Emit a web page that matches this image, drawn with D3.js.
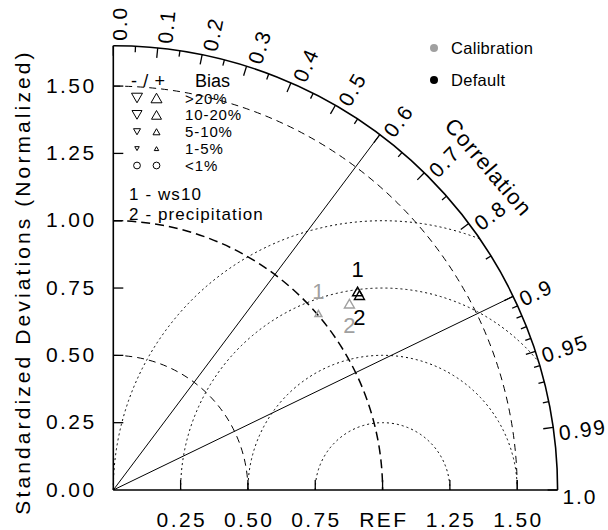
<!DOCTYPE html>
<html>
<head>
<meta charset="utf-8">
<script src="https://cdn.jsdelivr.net/npm/d3@7/dist/d3.min.js"></script>
<style>
  html, body { margin: 0; padding: 0; background: #fff; }
  svg text { font-family: "Liberation Sans", Arial, Helvetica, sans-serif; fill: #000; }
</style>
</head>
<body>
<svg id="chart" width="608" height="530"></svg>
<script>
// ---- data ----
const variables = ["ws10", "precipitation"];
const defaultStd = [1.169, 1.166];
const defaultCor = [0.776, 0.784];
const defaultBias = [15, 12];          // percent
const calibStd = [1.005, 1.117];
const calibCor = [0.758, 0.785];
const calibBias = [7, 11];             // percent

const caseNames = ["Calibration", "Default"];
const caseColors = ["#a0a0a0", "#000000"];

const stdMax = 1.65;
const stdTicks = [0.25, 0.5, 0.75, 1.0, 1.25, 1.5];
const yTickLabels = ["0.25", "0.50", "0.75", "1.00", "1.25", "1.50"];
const xTickLabels = ["0.25", "0.50", "0.75", "REF", "1.25", "1.50"];
const stdArcs = [0.5, 1.0, 1.5];
const rmsArcs = [0.25, 0.5, 0.75, 1.0];
const corMajor = [0, 0.1, 0.2, 0.3, 0.4, 0.5, 0.6, 0.7, 0.8, 0.9, 0.95, 0.99, 1.0];
const corMajorLabels = ["0.0", "0.1", "0.2", "0.3", "0.4", "0.5", "0.6", "0.7", "0.8", "0.9", "0.95", "0.99", "1.0"];
const corMinor = [0.05, 0.15, 0.25, 0.35, 0.45, 0.55, 0.65, 0.75, 0.85, 0.91, 0.92, 0.93, 0.94, 0.96, 0.97, 0.98];
const corRays = [0.6, 0.9];

const biasLabels = [">20%", "10-20%", "5-10%", "1-5%", "<1%"];
const biasLower = [20, 10, 5, 1, 0];

// ---- layout ----
const svg = d3.select("#chart");
const ox = 113.3, oy = 490;
const r = d3.scaleLinear().domain([0, stdMax]).range([0, 444.3]);
const R = r(stdMax);
const font = "'Liberation Sans', Arial, Helvetica, sans-serif";

function pt(s, c) {
  const th = Math.acos(c);
  return [ox + r(s) * Math.cos(th), oy - r(s) * Math.sin(th)];
}
function biasClass(b) {
  const a = Math.abs(b);
  for (let i = 0; i < biasLower.length; i++) if (a >= biasLower[i]) return i;
  return biasLower.length - 1;
}
const markerWidth = [11, 10, 7, 4.5];
function markerPath(cls, up) {
  if (cls >= 4) {
    const p = d3.path(); p.arc(0, 0, 3.4, 0, 2 * Math.PI); return p.toString();
  }
  const w = markerWidth[cls], h = w * 0.87;
  const s = up ? 1 : -1;
  return `M0,${-s * h / 2}L${w / 2},${s * h / 2}L${-w / 2},${s * h / 2}Z`;
}

const g = svg.append("g");

// RMS difference circles centred on REF, clipped to the outer boundary
rmsArcs.forEach(rho => {
  const cxp = ox + r(1), rp = r(rho);
  let a1 = 2 * Math.PI;
  if (1 + rho > stdMax) {
    const xi = (stdMax * stdMax - rho * rho + 1) / 2;
    const yi = Math.sqrt(stdMax * stdMax - xi * xi);
    a1 = Math.atan2(-yi, xi - 1) + 2 * Math.PI;
  }
  const p = d3.path();
  p.arc(cxp, oy, rp, Math.PI, a1, false);
  g.append("path").attr("d", p.toString()).attr("fill", "none")
    .attr("stroke", "#000").attr("stroke-width", 1).attr("stroke-dasharray", "2,3");
});

// standard deviation arcs
stdArcs.forEach(s => {
  const p = d3.path();
  p.arc(ox, oy, r(s), -Math.PI / 2, 0, false);
  const bold = s === 1.0;
  g.append("path").attr("d", p.toString()).attr("fill", "none")
    .attr("stroke", "#000").attr("stroke-width", bold ? 1.5 : 1)
    .attr("stroke-dasharray", bold ? "9,5" : "7,5");
});

// correlation rays
corRays.forEach(c => {
  const [x, y] = pt(stdMax, c);
  g.append("line").attr("x1", ox).attr("y1", oy).attr("x2", x).attr("y2", y)
    .attr("stroke", "#000").attr("stroke-width", 1);
});

// outer boundary and axes
{
  const p = d3.path();
  p.arc(ox, oy, R, -Math.PI / 2, 0, false);
  g.append("path").attr("d", p.toString()).attr("fill", "none").attr("stroke", "#000").attr("stroke-width", 1.6);
  g.append("line").attr("x1", ox).attr("y1", oy).attr("x2", ox).attr("y2", oy - R).attr("stroke", "#000").attr("stroke-width", 1.6);
  g.append("line").attr("x1", ox).attr("y1", oy).attr("x2", ox + R).attr("y2", oy).attr("stroke", "#000").attr("stroke-width", 1.6);
}

// axis ticks and labels
stdTicks.forEach((s, i) => {
  g.append("line").attr("x1", ox).attr("x2", ox + 10).attr("y1", oy - r(s)).attr("y2", oy - r(s))
    .attr("stroke", "#000").attr("stroke-width", 1.3);
  g.append("line").attr("x1", ox + r(s)).attr("x2", ox + r(s)).attr("y1", oy).attr("y2", oy - 10)
    .attr("stroke", "#000").attr("stroke-width", 1.3);
  g.append("text").attr("x", 96.5).attr("y", oy - r(s) - 1).attr("text-anchor", "end")
    .attr("dominant-baseline", "central").style("font-size", "21px").style("letter-spacing", "2.4px")
    .text(yTickLabels[i]);
  g.append("text").attr("x", ox + r(s) + 1.2).attr("y", 519).attr("text-anchor", "middle")
    .attr("dominant-baseline", "central").style("font-size", "21px").style("letter-spacing", "2.4px")
    .text(xTickLabels[i]);
});
g.append("text").attr("x", 96.5).attr("y", oy - 1).attr("text-anchor", "end")
  .attr("dominant-baseline", "central").style("font-size", "21px").style("letter-spacing", "2.4px")
  .text("0.00");

// correlation ticks
function radialTick(c, len) {
  const th = Math.acos(c);
  g.append("line")
    .attr("x1", ox + R * Math.cos(th)).attr("y1", oy - R * Math.sin(th))
    .attr("x2", ox + (R - len) * Math.cos(th)).attr("y2", oy - (R - len) * Math.sin(th))
    .attr("stroke", "#000").attr("stroke-width", 1.3);
}
corMajor.forEach(c => radialTick(c, 10));
corMinor.forEach(c => radialTick(c, 6));

corMajor.forEach((c, i) => {
  const th = Math.acos(c);
  const rr = R + 5;
  const x = ox + rr * Math.cos(th), y = oy - rr * Math.sin(th);
  g.append("text")
    .attr("transform", `translate(${x},${y}) rotate(${-th * 180 / Math.PI})`)
    .attr("x", 0).attr("y", 6.5).attr("dominant-baseline", "central")
    .style("font-size", "21px").style("letter-spacing", "1.8px")
    .text(corMajorLabels[i]);
});

// axis titles
{
  const ang = 40.7 * Math.PI / 180, rr = 495;
  g.append("text")
    .attr("transform", `translate(${ox + rr * Math.cos(ang)},${oy - rr * Math.sin(ang)}) rotate(${90 - 40.7})`)
    .attr("text-anchor", "middle").attr("dominant-baseline", "central")
    .style("font-size", "22px").style("letter-spacing", "1.2px")
    .text("Correlation");
  g.append("text")
    .attr("transform", "translate(30,282) rotate(-90)")
    .attr("text-anchor", "middle")
    .style("font-size", "21px").style("letter-spacing", "3.1px")
    .text("Standardized Deviations (Normalized)");
}

// bias legend
const lg = svg.append("g");
lg.append("text").attr("x", 131).attr("y", 87).style("font-size", "18px").style("letter-spacing", "0.6px").text("- / +");
lg.append("text").attr("x", 195).attr("y", 87).style("font-size", "18px").text("Bias");
const rowY = d3.scaleLinear().domain([0, 4]).range([98, 165.5]);
biasLabels.forEach((lab, i) => {
  const y = rowY(i);
  lg.append("path").attr("d", markerPath(i, false)).attr("transform", `translate(137,${y})`)
    .attr("fill", "none").attr("stroke", "#000").attr("stroke-width", 1);
  lg.append("path").attr("d", markerPath(i, true)).attr("transform", `translate(156.5,${y})`)
    .attr("fill", "none").attr("stroke", "#000").attr("stroke-width", 1);
  lg.append("text").attr("x", 185).attr("y", y).attr("dominant-baseline", "central")
    .style("font-size", "15px").style("letter-spacing", "0.9px").text(lab);
});
variables.forEach((v, i) => {
  lg.append("text").attr("x", 129).attr("y", 200 + 20 * i)
    .style("font-size", "17px").style("letter-spacing", "1.1px")
    .text(`${i + 1} - ${v}`);
});

// case legend
caseNames.forEach((name, i) => {
  const y = 48 + 32 * i;
  lg.append("circle").attr("cx", 434).attr("cy", y).attr("r", 4).attr("fill", caseColors[i]);
  lg.append("text").attr("x", 451).attr("y", y).attr("dominant-baseline", "central")
    .style("font-size", "16.5px").style("letter-spacing", "0.3px").text(name);
});

// markers and numeric labels
const cases = [
  { std: calibStd, cor: calibCor, bias: calibBias, color: caseColors[0] },
  { std: defaultStd, cor: defaultCor, bias: defaultBias, color: caseColors[1] }
];
const mg = svg.append("g");
cases.forEach(cs => {
  variables.forEach((v, i) => {
    const [x, y] = pt(cs.std[i], cs.cor[i]);
    const b = cs.bias[i];
    mg.append("path").attr("d", markerPath(biasClass(b), b >= 0))
      .attr("transform", `translate(${x},${y})`)
      .attr("fill", "none").attr("stroke", cs.color).attr("stroke-width", 1.4);
    const off = i === 0 ? -22 : 22;
    mg.append("text").attr("x", x).attr("y", y + off)
      .attr("text-anchor", "middle").attr("dominant-baseline", "central")
      .style("font-size", "22px").style("fill", cs.color)
      .text(String(i + 1));
  });
});
</script>
</body>
</html>
